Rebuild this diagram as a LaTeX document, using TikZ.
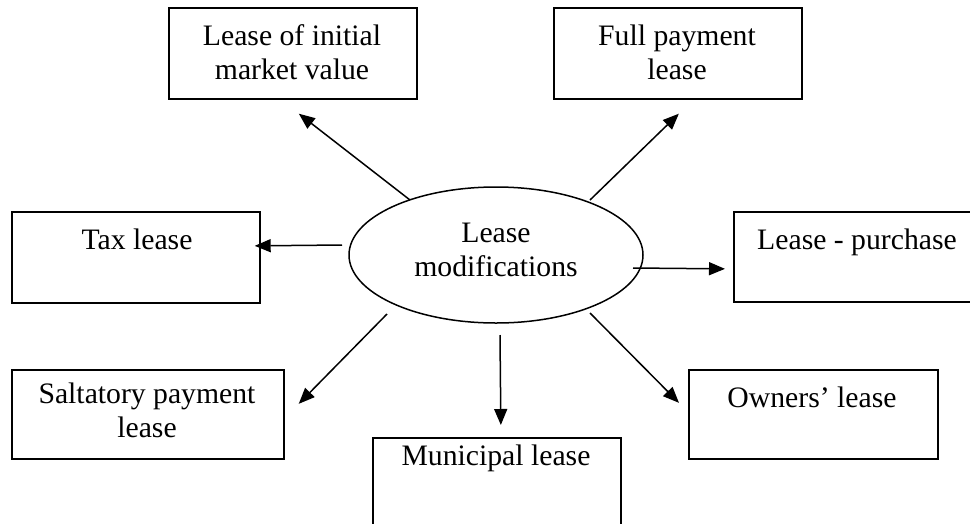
\documentclass[tikz,border=0pt]{standalone}
\usepackage{fontspec}
\setmainfont{Liberation Serif}
\usetikzlibrary{arrows.meta,shapes.geometric}
\tikzset{
  box/.style={draw=black, line width=1.7pt, rectangle, inner sep=0pt, anchor=north west},
  txt/.style={inner sep=0pt, anchor=base, font=\fontsize{29.7}{34}\selectfont},
  oval/.style={draw=black, line width=1.5pt, ellipse, inner sep=0pt, minimum width=294pt, minimum height=136pt},
  arr/.style={line width=1.5pt, -{Triangle[length=16pt, width=13pt]}}
}
\begin{document}
\begin{tikzpicture}[x=1pt, y=-1pt]
\useasboundingbox (0,0) rectangle (970,523);
\clip (0,0) rectangle (970,523);
% boxes
\node[box, minimum width=248pt, minimum height=91pt] (b1) at (168,7) {};
\node[box, minimum width=248pt, minimum height=91pt] (b2) at (553,7) {};
\node[box, minimum width=248pt, minimum height=91pt] (b3) at (11,211) {};
\node[box, minimum width=248pt, minimum height=90pt] (b4) at (733,211) {};
\node[box, minimum width=272pt, minimum height=89pt] (b5) at (11,369) {};
\node[box, minimum width=249pt, minimum height=89pt] (b7) at (688,369) {};
\node[box, minimum width=248pt, minimum height=91pt] (b6) at (372,437) {};
% ellipse
\node[oval] (ell) at (496,255) {};
% texts
\node[txt] (t1) at (292,45) {\begin{tabular}[t]{@{}c@{}}Lease of initial\\market value\end{tabular}};
\node[txt] (t2) at (677,45) {\begin{tabular}[t]{@{}c@{}}Full payment\\lease\end{tabular}};
\node[txt] (t3) at (137,249) {Tax lease};
\node[txt] (t4) at (857,249) {Lease - purchase};
\node[txt] (t5) at (147,403) {\begin{tabular}[t]{@{}c@{}}Saltatory payment\\lease\end{tabular}};
\node[txt] (t7) at (812,407) {Owners’ lease};
\node[txt] (t6) at (496,465) {Municipal lease};
\node[txt] (t0) at (496,242) {\begin{tabular}[t]{@{}c@{}}Lease\\modifications\end{tabular}};
% connectors
\draw[arr] ([shift={(-86,-55)}]ell.center) -- ([shift={(6,14)}]b1.south);
\draw[arr] ([shift={(94,-55)}]ell.center) -- ([shift={(1,14)}]b2.south);
\draw[arr] ([shift={(-154,-10)}]ell.center) -- ([shift={(-6,-11.5)}]b3.east);
\draw[arr] ([shift={(137,13)}]ell.center) -- ([shift={(-8,12)}]b4.west);
\draw[arr] ([shift={(-109,59)}]ell.center) -- ([shift={(14,-10.5)}]b5.east);
\draw[arr] ([shift={(4,80)}]ell.center) -- ([shift={(4,-12)}]b6.north);
\draw[arr] ([shift={(94,58)}]ell.center) -- ([shift={(-9,-11.5)}]b7.west);
\end{tikzpicture}
\end{document}
